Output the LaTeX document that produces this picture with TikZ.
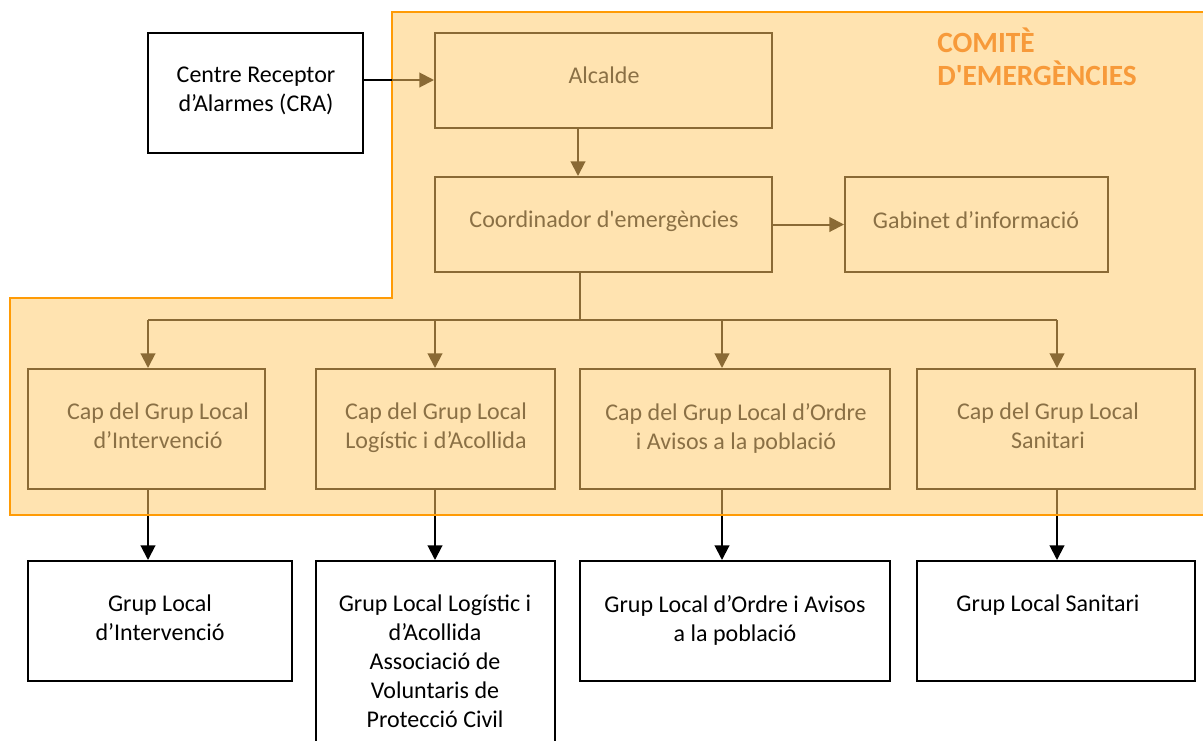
\documentclass[tikz,border=0pt]{standalone}
\usepackage{fontspec}
\setmainfont{Carlito}
\usetikzlibrary{arrows.meta,calc}
\definecolor{zonefill}{HTML}{FFE3B0}
\definecolor{zoneline}{HTML}{FF9B05}
\definecolor{titlecol}{HTML}{F79A3A}
\definecolor{brownline}{HTML}{8A6A35}
\definecolor{browntext}{HTML}{8A7045}
\tikzset{
  x=0.75pt, y=-0.75pt,
  inbox/.style={draw=brownline, line width=1.5pt, fill=zonefill, rectangle, inner sep=0pt},
  outbox/.style={draw=black, line width=1.5pt, fill=white, rectangle, inner sep=0pt},
  intext/.style={text=browntext, font=\fontsize{18}{21.75}\selectfont, align=center, inner sep=0pt, anchor=center},
  outtext/.style={text=black, font=\fontsize{18}{21.75}\selectfont, align=center, inner sep=0pt, anchor=center},
  brarrow/.style={draw=brownline, line width=1.5pt, -{Triangle[length=11pt,width=11pt]}},
  brline/.style={draw=brownline, line width=1.5pt},
  blarrow/.style={draw=black, line width=1.5pt, -{Triangle[length=11pt,width=11pt]}},
  blline/.style={draw=black, line width=1.5pt},
}
\newcommand{\boxat}[6]{% style, name, x1, y1, x2, y2
  \node[#1, minimum width={(#5-#3)*0.75pt}, minimum height={(#6-#4)*0.75pt}] (#2) at ({(#3+#5)/2},{(#4+#6)/2}) {};}
\begin{document}
\begin{tikzpicture}
\useasboundingbox (0,0) rectangle (1203,740);
% zone
\fill[zonefill] (392,12) -- (1203,12) -- (1203,515) -- (10,515) -- (10,298) -- (392,298) -- cycle;
\draw[zoneline, line width=1.5pt] (1203,12) -- (392,12) -- (392,298) -- (10,298) -- (10,515) -- (1203,515);
\node[text=titlecol, font=\bfseries\fontsize{22}{24.75}\selectfont, align=left, anchor=north west, inner sep=0pt] (title) at (937,28) {COMITÈ\\D\textquotesingle EMERGÈNCIES};
% boxes
\boxat{outbox}{cra}{148}{33}{363}{153}
\boxat{inbox}{alc}{435}{33}{772}{128}
\boxat{inbox}{coord}{435}{177}{772}{272}
\boxat{inbox}{gab}{845}{177}{1108}{272}
\boxat{inbox}{capa}{28}{369}{265}{489}
\boxat{inbox}{capb}{316}{369}{555}{489}
\boxat{inbox}{capc}{580}{369}{890}{489}
\boxat{inbox}{capd}{917}{369}{1195}{489}
\boxat{outbox}{grpa}{28}{561}{292}{681}
\boxat{outbox}{grpb}{316}{561}{555}{760}
\boxat{outbox}{grpc}{580}{561}{890}{681}
\boxat{outbox}{grpd}{917}{561}{1195}{681}
% texts
\node[outtext, anchor=north] (tcra) at (256,67) {Centre Receptor\\d’Alarmes (CRA)};
\node[intext, anchor=north] (talc) at (604,67) {Alcalde};
\node[intext, anchor=north] (tcoord) at (604,211) {Coordinador d\textquotesingle emergències};
\node[intext, anchor=north] (tgab) at (976,211) {Gabinet d’informació};
\node[intext, anchor=north] (tcapa) at (158,403) {Cap del Grup Local\\d’Intervenció};
\node[intext, anchor=north] (tcapb) at (436,403) {Cap del Grup Local\\Logístic i d’Acollida};
\node[intext, anchor=north] (tcapc) at (736,403) {Cap del Grup Local d’Ordre\\i Avisos a la població};
\node[intext, anchor=north] (tcapd) at (1048,403) {Cap del Grup Local\\Sanitari};
\node[outtext, anchor=north] (tgrpa) at (160,595) {Grup Local\\d’Intervenció};
\node[outtext, anchor=north] (tgrpb) at (435,595) {Grup Local Logístic i\\d’Acollida\\Associació de\\Voluntaris de\\Protecció Civil};
\node[outtext, anchor=north] (tgrpc) at (735,595) {Grup Local d’Ordre i Avisos\\a la població};
\node[outtext, anchor=north] (tgrpd) at (1048,595) {Grup Local Sanitari};
% connectors
\coordinate (craz) at (392,80);
\draw[blline] (cra.east |- craz) -- (craz);
\draw[brarrow] (craz) -- (alc.west |- craz);
\coordinate (alcdown) at (578,0);
\draw[brarrow] (alc.south -| alcdown) -- (coord.north -| alcdown);
\draw[brarrow] (coord.east) -- (gab.west);
\coordinate (split) at (580,320);
\draw[brline] (coord.south -| split) -- (split);
\draw[brline] (148,320) coordinate (sl) -- (1057,320) coordinate (sr);
\foreach \x/\n in {148/capa,435/capb,722/capc,1057/capd}{
  \draw[brarrow] (\x,320) -- (\n.north -| \x,0);
}
\foreach \x/\n/\m in {148/capa/grpa,435/capb/grpb,722/capc/grpc,1057/capd/grpd}{
  \coordinate (edge\n) at (\x,515);
  \draw[brline] (\n.south -| edge\n) -- (edge\n);
  \draw[blarrow] (edge\n) -- (\m.north -| edge\n);
}
\draw[zoneline, line width=1.5pt] (10,515) -- (1203,515);
\end{tikzpicture}
\end{document}
